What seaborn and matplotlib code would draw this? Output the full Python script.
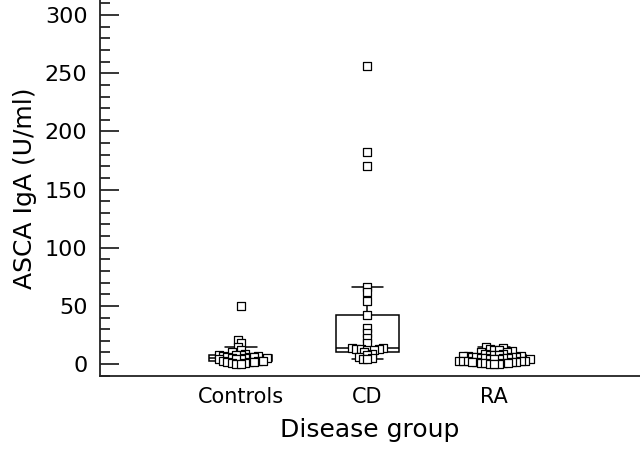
import numpy as np
import pandas as pd
import matplotlib
matplotlib.use("Agg")
import matplotlib.pyplot as plt
import seaborn as sns
from matplotlib.ticker import MultipleLocator

# --- DATA
groups = ["Controls", "CD", "RA"]
controls = [50, 21, 18, 15, 12, 10, 9, 8, 8, 8, 7, 7, 6, 6, 6, 5, 5, 5,
            4, 4, 4, 3, 3, 3, 2, 2, 2, 1, 1, 0, 0]
cd = [256, 182, 170, 66, 62, 54, 42, 31, 27, 22, 18, 14, 14, 13, 13, 13,
      12, 12, 10, 9, 8, 6, 5, 4, 4]
ra = [15, 14, 13, 12, 12, 11, 10, 10, 9, 9, 8, 8, 8, 7, 7, 7, 6, 6, 6, 6,
      5, 5, 5, 5, 4, 4, 4, 4, 3, 3, 3, 3, 3, 2, 2, 2, 2, 1, 1, 1, 1, 0, 0, 0]

df = pd.DataFrame({
    "group": ["Controls"] * len(controls) + ["CD"] * len(cd) + ["RA"] * len(ra),
    "asca": controls + cd + ra,
})

# --- PLOT
sns.set_style("white")
plt.rcParams["font.family"] = ["DejaVu Sans"]
plt.rcParams["text.color"] = "black"
plt.rcParams["axes.labelcolor"] = "black"
plt.rcParams["ytick.color"] = "black"
plt.rcParams["xtick.color"] = "black"

fig = plt.figure(figsize=(6.4, 4.54), dpi=100)
ax = fig.add_axes([100 / 640, 78 / 454, 540 / 640, 376 / 454])

sns.boxplot(data=df, x="group", y="asca", order=groups, ax=ax,
            width=0.5, color="white", linecolor="black", linewidth=1.1,
            showfliers=False, whis=1.5,
            medianprops={"color": "black", "linewidth": 1.1})
# swarm laid out with small markers, then drawn bigger so they overlap
sns.swarmplot(data=df, x="group", y="asca", order=groups, ax=ax,
              marker="s", size=2.2, color="white", edgecolor="black",
              linewidth=0.9)

ax.set_xlim(-1.11, 3.15)
ax.set_ylim(-10.3, 313)
ax.yaxis.set_minor_locator(MultipleLocator(10))
ax.set_yticks(np.arange(0, 301, 50))
ax.tick_params(axis="y", which="major", direction="in", length=14, width=1.1,
               labelsize=16, pad=9, left=True)
ax.tick_params(axis="y", which="minor", direction="in", length=7, width=1.1,
               left=True)
ax.tick_params(axis="x", length=0, labelsize=15, pad=8)

sns.despine(ax=ax, top=True, right=True)
for side in ["left", "bottom"]:
    ax.spines[side].set_linewidth(1.3)
    ax.spines[side].set_color("#222222")

ax.set_xlabel("Disease group", fontsize=18, labelpad=8)
ax.set_ylabel("ASCA IgA (U/ml)", fontsize=18, labelpad=6)

# freeze swarm positions, then enlarge the squares
fig.canvas.draw()
for coll in ax.collections:
    if "draw" in coll.__dict__:
        del coll.draw
        coll.set_sizes([26])

plt.savefig("out.png", dpi=100)
